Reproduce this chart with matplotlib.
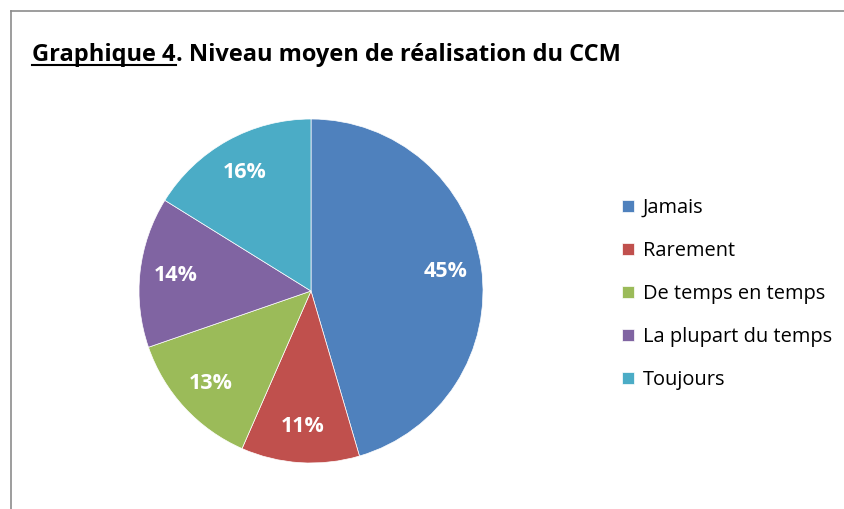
import matplotlib
matplotlib.use('Agg')
import matplotlib.pyplot as plt
from matplotlib.lines import Line2D
import numpy as np

categories = ['Jamais', 'Rarement', 'De temps en temps', 'La plupart du temps', 'Toujours']
values = [45, 11, 13, 14, 16]
pct_labels = ['45%', '11%', '13%', '14%', '16%']
colors = ['#4F81BD', '#C0504D', '#9BBB59', '#8064A2', '#4BACC6']

W, H = 844, 509
fig = plt.figure(figsize=(W / 100, H / 100), dpi=100)
plt.rcParams['font.family'] = ['Open Sans', 'DejaVu Sans']

# outer frame (only left and top visible)
fig.add_artist(Line2D([11 / W, 11 / W], [0, 1 - 11 / H], color='#8c8c8c', lw=1.2))
fig.add_artist(Line2D([11 / W, 1], [1 - 11 / H, 1 - 11 / H], color='#8c8c8c', lw=1.2))

# pie centred at (311, 291) px, radius 172 px
cx, cy, r = 311, 291, 172
ax = fig.add_axes([(cx - r) / W, (H - cy - r) / H, 2 * r / W, 2 * r / H])
wedges, _ = ax.pie(values, colors=colors, startangle=90, counterclock=False,
                   wedgeprops=dict(edgecolor='white', linewidth=0.5))
ax.set_xlim(-1, 1)
ax.set_ylim(-1, 1)
ax.set_aspect('equal')

for w, lab in zip(wedges, pct_labels):
    ang = np.deg2rad((w.theta1 + w.theta2) / 2)
    ax.text(0.79 * np.cos(ang), 0.79 * np.sin(ang), lab, ha='center', va='center',
            color='white', fontsize=15.5, fontweight='bold')

# title with underlined first part
t1 = fig.text(32 / W, 1 - 55 / H, 'Graphique 4', fontsize=17, fontweight='bold',
              ha='left', va='center')
fig.canvas.draw()
bb = t1.get_window_extent()
x1 = bb.x1 / W
fig.add_artist(Line2D([bb.x0 / W, x1], [(bb.y0 + 2) / H, (bb.y0 + 2) / H],
                      color='black', lw=1.5))
fig.text(x1, 1 - 55 / H, '. Niveau moyen de réalisation du CCM', fontsize=17,
         fontweight='bold', ha='left', va='center')

leg = fig.legend(wedges, categories, loc='upper left',
                 bbox_to_anchor=(604 / W, 1 - 180 / H), frameon=False,
                 fontsize=14.4, handlelength=0.6, handleheight=0.6,
                 handletextpad=0.45, labelspacing=1.15)

fig.savefig('out.png', dpi=100)
